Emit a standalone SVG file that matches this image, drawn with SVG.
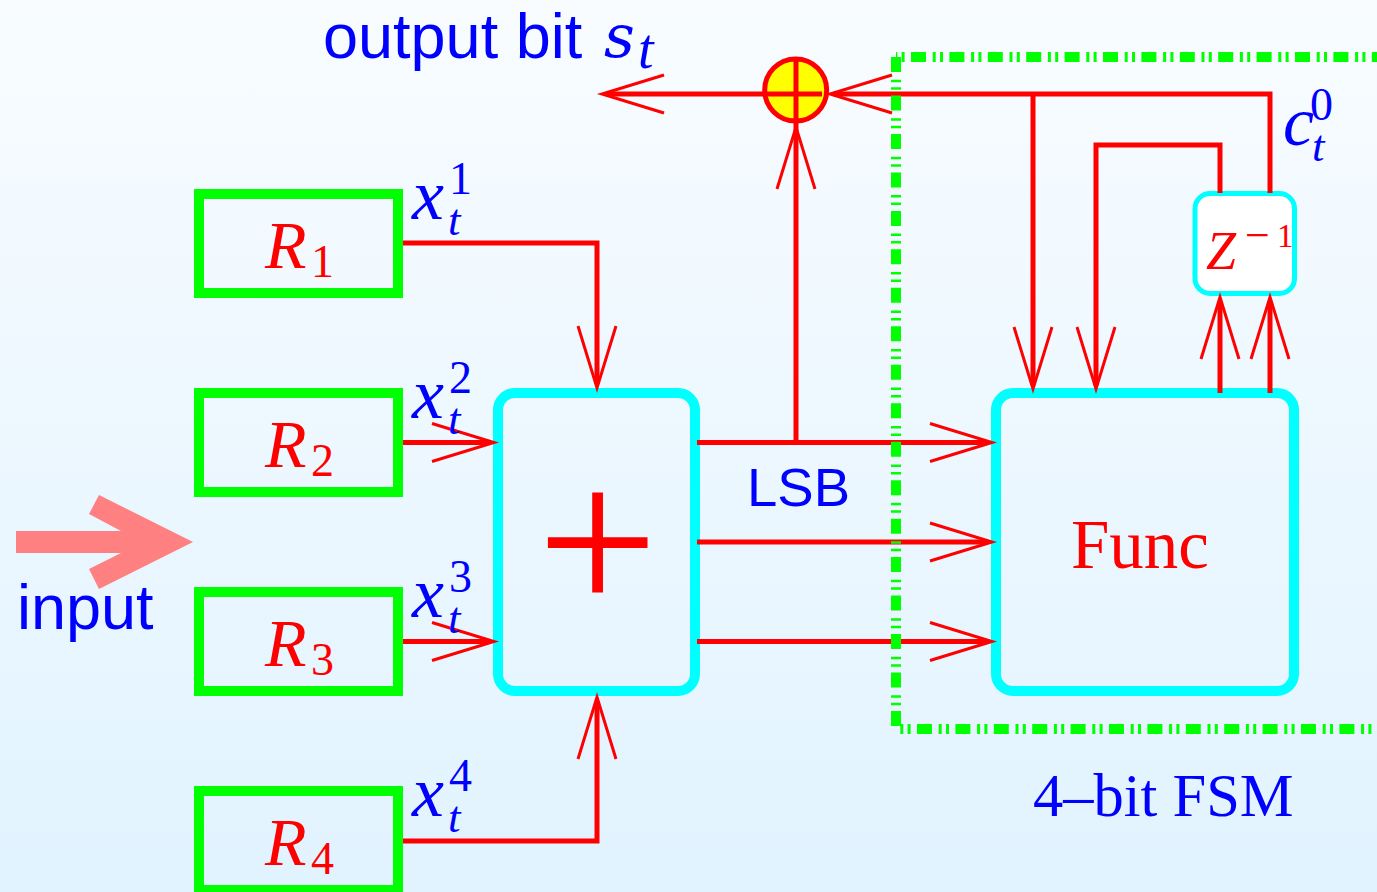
<svg xmlns="http://www.w3.org/2000/svg" width="1377" height="892" viewBox="0 0 1377 892">
<style>
.reg{fill:none;stroke:#00ff00;stroke-width:10}
.blk{fill:none;stroke:#00ffff;stroke-width:10}
.wire{fill:none;stroke:#ff0000;stroke-width:5}
.arr{marker-end:url(#open)}
.fsm{fill:none;stroke:#00ff00;stroke-width:10;stroke-dasharray:15 6.7 3 4.3 3 6.4}
.ms{font-family:"Liberation Serif",serif;font-style:italic}
.rm{font-family:"Liberation Serif",serif;font-style:normal}
.sf{font-family:"Liberation Sans",sans-serif}
.r{fill:#ff0000}
.b{fill:#0000ff}
.big{font-size:72px}
.sup{font-size:46px}
.sub{font-size:45px}
.rn{font-size:68px}
</style>
<defs>
<linearGradient id="bg" x1="0" y1="0" x2="0" y2="1"><stop offset="0" stop-color="#f8fcff"/><stop offset="1" stop-color="#e1f3ff"/></linearGradient>
<marker id="open" viewBox="0 -22 72 44" refX="60" refY="0" markerWidth="72" markerHeight="44" markerUnits="userSpaceOnUse" orient="auto"><path d="M2,-19L64,0L2,19" fill="none" stroke="#ff0000" stroke-width="3"/></marker>
</defs>
<rect width="1377" height="892" fill="url(#bg)"/>
<g id="input-arrow"><polygon points="193,542 99,495 89,514 121,531 16,531 16,553 121,553 89,569 99,589" fill="#ff8080"/></g>
<g id="r1"><rect class="reg" x="199" y="194" width="199" height="99"/><text class="ms r rn" x="265" y="268">R<tspan class="rm sup" x="311" y="277">1</tspan></text></g>
<g id="r2"><rect class="reg" x="199" y="393" width="199" height="99"/><text class="ms r rn" x="265" y="467">R<tspan class="rm sup" x="311" y="476">2</tspan></text></g>
<g id="r3"><rect class="reg" x="199" y="592" width="199" height="99"/><text class="ms r rn" x="265" y="666">R<tspan class="rm sup" x="311" y="675">3</tspan></text></g>
<g id="r4"><rect class="reg" x="199" y="791" width="199" height="99"/><text class="ms r rn" x="265" y="865">R<tspan class="rm sup" x="311" y="874">4</tspan></text></g>
<g id="adder"><rect class="blk" x="498" y="393" width="197" height="298" rx="17"/><text class="rm r" x="597.500" y="614" font-size="214" text-anchor="middle">+</text></g>
<g id="func"><rect class="blk" x="996" y="393" width="298" height="298" rx="17"/><text class="rm r" x="1071" y="568" font-size="69">Func</text></g>
<g id="delay"><rect x="1195" y="193.5" width="99.500" height="100" rx="15" fill="#ffffff" stroke="#00ffff" stroke-width="5"/><text class="ms r" x="1206" y="269" font-size="54">Z<tspan class="rm" x="1245" y="250" font-size="44">−</tspan><tspan class="rm" x="1277" y="247" font-size="33">1</tspan></text></g>
<g id="xor"><circle cx="795.700" cy="90" r="31" fill="#ffff00" stroke="#ff0000" stroke-width="5"/></g>
<g id="connectors">
<polyline class="wire arr" points="403,243 597,243 597,384"/>
<polyline class="wire arr" points="403,442.500 490,442.500"/>
<polyline class="wire arr" points="403,641.500 490,641.500"/>
<polyline class="wire arr" points="403,841 597,841 597,701"/>
<polyline class="wire arr" points="697,442.500 988,442.500"/>
<polyline class="wire arr" points="697,542 988,542"/>
<polyline class="wire arr" points="697,641.500 988,641.500"/>
<polyline class="wire arr" points="796,441 796,131"/>
<line class="wire" x1="796" y1="131" x2="796" y2="58"/>
<polyline class="wire arr" points="822,94 606,94"/>
<polyline class="wire arr" points="1270,193 1270,94 834,94"/>
<polyline class="wire arr" points="1033,94 1033,385"/>
<polyline class="wire arr" points="1220,193 1220,145 1096,145 1096,385"/>
<polyline class="wire arr" points="1220,393 1220,301"/>
<polyline class="wire arr" points="1270,393 1270,301"/>
</g>
<g id="fsm-boundary">
<line class="fsm" x1="896" y1="57" x2="1377" y2="57" stroke-dashoffset="23.400"/>
<line class="fsm" x1="900" y1="729" x2="1377" y2="729" stroke-dashoffset="21.400"/>
<line class="fsm" x1="896" y1="57" x2="896" y2="726" style="stroke-dasharray:15 7.700 2.500 5 2.500 5.770"/>
</g>
<g id="labels">
<text class="sf b" x="323" y="58" font-size="63">output bit</text>
<text class="b" x="604" y="57" font-size="60" style="font-family:'DejaVu Serif',serif;font-style:italic">s<tspan class="ms" x="638" y="68" font-size="56">t</tspan></text>
<text class="sf b" x="17" y="629" font-size="63">input</text>
<text class="sf b" x="747" y="506" font-size="54.500">LSB</text>
<text class="rm b" x="1033" y="816" font-size="60.500">4–bit FSM</text>
<text class="ms b" x="1283" y="145" font-size="70">c<tspan class="rm sup" x="1310" y="120">0</tspan><tspan class="sub" x="1312" y="161">t</tspan></text>
<text class="ms b big" x="412" y="219">x<tspan class="rm sup" x="449" y="194">1</tspan><tspan class="sub" x="448" y="235">t</tspan></text>
<text class="ms b big" x="412" y="418">x<tspan class="rm sup" x="449" y="393">2</tspan><tspan class="sub" x="448" y="434">t</tspan></text>
<text class="ms b big" x="412" y="617">x<tspan class="rm sup" x="449" y="592">3</tspan><tspan class="sub" x="448" y="633">t</tspan></text>
<text class="ms b big" x="412" y="816">x<tspan class="rm sup" x="449" y="791">4</tspan><tspan class="sub" x="448" y="832">t</tspan></text>
</g>
</svg>
